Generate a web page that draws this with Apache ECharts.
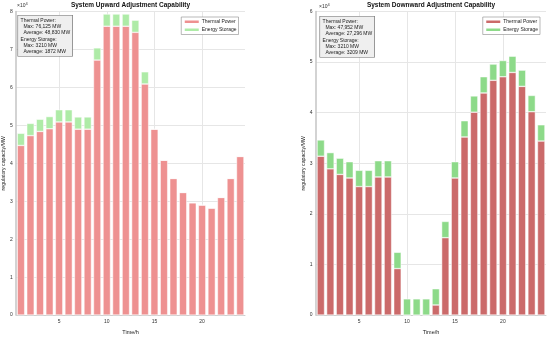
<!DOCTYPE html>
<html>
<head>
<meta charset="utf-8">
<script src="https://cdn.jsdelivr.net/npm/echarts@6/dist/echarts.min.js"></script>
<style>html,body{margin:0;padding:0;background:#fff;}#c{width:550px;height:340px;}</style>
</head>
<body>
<div id="c"></div>
<script>
// ---- data (MW) ----
const hours = ['1','2','3','4','5','6','7','8','9','10','11','12','13','14','15','16','17','18','19','20','21','22','23','24'];
const upThermal = [44700, 47300, 48400, 49100, 50900, 50900, 49000, 49000, 67200, 76125, 76125, 76125, 74500, 60900, 49000, 40800, 36000, 32300, 29600, 29000, 28200, 31000, 36000, 41800];
const upStorage = [3210, 3210, 3210, 3210, 3210, 3210, 3210, 3210, 3210, 3210, 3210, 3210, 3210, 3210, 0, 0, 0, 0, 0, 0, 0, 0, 0, 0];
const downThermal = [31400, 28900, 27800, 27100, 25400, 25400, 27300, 27300, 9200, 0, 0, 0, 2000, 15300, 27100, 35200, 40100, 43900, 46400, 47100, 47952, 45200, 40200, 34400];
const downStorage = [3210, 3210, 3210, 3210, 3210, 3210, 3210, 3210, 3210, 3210, 3210, 3210, 3210, 3210, 3210, 3210, 3210, 3210, 3210, 3210, 3210, 3210, 3210, 3210];
const xTickHours = ['5', '10', '15', '20'];
const upTitle = 'System Upward Adjustment Capability';
const downTitle = 'System Downward Adjustment Capability';
const legendNames = ['Thermal Power', 'Energy Storage'];
const upNote = ['Thermal Power:', '  Max: 76,125 MW', '  Average: 48,830 MW', 'Energy Storage:', '  Max: 3210 MW', '  Average: 1872 MW'];
const downNote = ['Thermal Power:', '  Max: 47,952 MW', '  Average: 27,296 MW', 'Energy Storage:', '  Max: 3210 MW', '  Average: 3209 MW'];
const yName = 'regulatory capacity/MW';
const xName = 'Time/h';

const FONT = 'Liberation Sans, Arial, sans-serif';
const gridColor = '#e6e6e6';
const labelColor = '#333';

function xAxisCfg(gi) {
  return {
    type: 'category', gridIndex: gi, data: hours,
    name: xName, nameLocation: 'middle', nameGap: 10,
    nameTextStyle: {fontSize: 5.5, color: '#222', fontFamily: FONT},
    axisLine: {show: true, lineStyle: {color: '#cfcfcf', width: 1}},
    axisTick: {show: false},
    axisLabel: {fontSize: 5, color: labelColor, fontFamily: FONT, margin: 4,
      interval: function (i, v) { return xTickHours.indexOf(v) >= 0; }},
    splitLine: {show: false}
  };
}
// hidden value axis that only carries the vertical grid lines (hour 5, 10, 15, 20)
function xGridAxisCfg(gi) {
  return {
    type: 'value', gridIndex: gi, min: 0.5, max: 24.5, splitNumber: 5,
    position: 'bottom', show: true,
    axisLine: {show: false}, axisTick: {show: false}, axisLabel: {show: false},
    splitLine: {show: true, showMinLine: false, showMaxLine: false,
      lineStyle: {color: gridColor, width: 1}}
  };
}
function yAxisCfg(gi, max, gap) {
  return {
    type: 'value', gridIndex: gi, min: 0, max: max, interval: 10000,
    name: yName, nameLocation: 'middle', nameGap: gap,
    nameTextStyle: {fontSize: 5.2, color: '#222', fontFamily: FONT},
    axisLine: {show: true, lineStyle: {color: '#c4c4c4', width: 1.5}},
    axisTick: {show: false},
    axisLabel: {fontSize: 5, color: labelColor, fontFamily: FONT, margin: 3.5,
      formatter: function (v) { return String(v / 10000); }},
    splitLine: {show: true, lineStyle: {color: gridColor, width: 1}}
  };
}
function bar(name, gi, stack, data, color) {
  return {
    name: name, type: 'bar', xAxisIndex: gi, yAxisIndex: gi, stack: stack,
    data: data, barCategoryGap: '22%', z: 2,
    itemStyle: {color: color, borderColor: '#fff', borderWidth: 0.5},
    emphasis: {disabled: true}
  };
}
function legendCfg(right, ids) {
  return {
    right: right, top: 17, orient: 'vertical',
    itemWidth: 16, itemHeight: 4.5, itemGap: 1.5,
    padding: [1.5, 2, 1.5, 1.5],
    backgroundColor: '#fff', borderColor: '#8a8a8a', borderWidth: 0.6, borderRadius: 0,
    textStyle: {fontSize: 5, color: '#222', fontFamily: FONT, padding: [0, 0, 0, -3]},
    icon: 'rect',
    data: ids,
    formatter: function (n) { return n.indexOf('thermal') >= 0 ? legendNames[0] : legendNames[1]; }
  };
}
function note(x, y, lines) {
  return {
    type: 'text', left: x, top: y, z: 100,
    style: {
      text: lines.join('\n'), fontSize: 5, lineHeight: 6.3, fill: '#222', fontFamily: FONT,
      backgroundColor: '#efefef', borderColor: '#666', borderWidth: 0.6,
      padding: [1.5, 2, 1, 2.5]
    }
  };
}
function power(x, y) {
  return {
    type: 'text', left: x, top: y, z: 100,
    style: {
      text: '{a|×10}{b|4}', fontFamily: FONT, fill: '#333',
      rich: {a: {fontSize: 5, fontFamily: FONT, fill: '#333'},
             b: {fontSize: 4, fontFamily: FONT, fill: '#333', padding: [0, 0, 4, 0]}}
    }
  };
}

const chart = echarts.init(document.getElementById('c'), null, {renderer: 'canvas'});
chart.setOption({
  animation: false,
  backgroundColor: '#fff',
  title: [
    {text: upTitle, left: 130.5, top: 2, textAlign: 'center', padding: 0,
     textStyle: {fontSize: 6.5, fontWeight: 'bold', color: '#111', fontFamily: FONT}},
    {text: downTitle, left: 431, top: 2, textAlign: 'center', padding: 0,
     textStyle: {fontSize: 6.5, fontWeight: 'bold', color: '#111', fontFamily: FONT}}
  ],
  grid: [
    {left: 16, right: 305, top: 11.5, bottom: 19.5, containLabel: false},
    {left: 316, right: 4, top: 11.5, bottom: 19.5, containLabel: false}
  ],
  xAxis: [xAxisCfg(0), xAxisCfg(1), xGridAxisCfg(0), xGridAxisCfg(1)],
  yAxis: [yAxisCfg(0, 80000, 8.5), yAxisCfg(1, 60000, 6.5)],
  legend: [legendCfg(311.5, ['up_thermal', 'up_storage']), legendCfg(10, ['down_thermal', 'down_storage'])],
  series: [
    bar('up_thermal', 0, 'up', upThermal, '#EE9191'),
    bar('up_storage', 0, 'up', upStorage, '#AEEBA7'),
    bar('down_thermal', 1, 'down', downThermal, '#CB6A6A'),
    bar('down_storage', 1, 'down', downStorage, '#8DDA89')
  ],
  graphic: [
    note(17.5, 15, upNote),
    note(319.5, 16, downNote),
    power(17, 2),
    power(319, 2.5)
  ]
});
</script>
</body>
</html>
